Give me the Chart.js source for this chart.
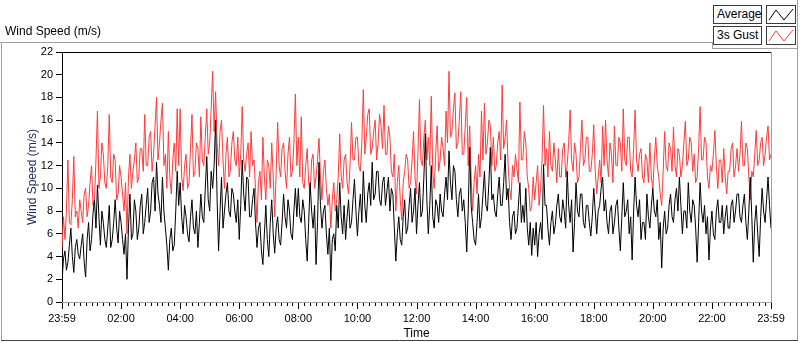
<!DOCTYPE html>
<html>
<head>
<meta charset="utf-8">
<script src="https://cdn.jsdelivr.net/npm/chart.js@4.4.1/dist/chart.umd.min.js"></script>
<style>
html, body { margin: 0; padding: 0; background: #fff; }
#wrap { position: relative; width: 800px; height: 342px; overflow: hidden; font-family: "Liberation Sans", Arial, sans-serif; }
#wrap canvas { position: absolute; left: 0; top: 0; }
.hdr { position: absolute; left: 5px; top: 24px; font-size: 12px; color: #000; }
.lg { position: absolute; left: 713px; width: 49px; height: 19px; border: 1px solid #3a3a3a; background: #fff; font-size: 12px; line-height: 17px; padding-left: 3px; box-sizing: border-box; color: #000; }
.ic { position: absolute; left: 766px; width: 30px; height: 19px; border: 1px solid #3a3a3a; background: #fff; box-sizing: border-box; }
.ic svg { position: absolute; left: 0; top: 0; }
</style>
</head>
<body>
<div id="wrap">
  <canvas id="chart" width="800" height="342"></canvas>
  <div class="hdr">Wind Speed (m/s)</div>
  <div class="lg" style="top:5px">Average</div>
  <div class="ic" style="top:5px"><svg width="28" height="17"><polyline points="2,14 9,4 17,14 26,3" fill="none" stroke="#000" stroke-width="1"/></svg></div>
  <div class="lg" style="top:26px">3s Gust</div>
  <div class="ic" style="top:26px"><svg width="28" height="17"><polyline points="2,14 9,4 17,14 26,3" fill="none" stroke="#ff3b3b" stroke-width="1"/></svg></div>
</div>
<script>
const STEP_MIN = 3; // one reading every 3 minutes, 23:59 -> 23:59
const X_LABELS = ["23:59", "02:00", "04:00", "06:00", "08:00", "10:00", "12:00", "14:00", "16:00", "18:00", "20:00", "22:00", "23:59"];
const Y_MAX = 22;
const Y_STEP = 2;

const AVG = [
    1.8, 3.8, 4.5, 2.8, 3.5, 5.0, 6.5, 4.0, 2.6, 4.8, 5.5, 4.2, 3.8, 5.0, 6.0, 3.5, 2.2, 5.5, 7.0, 4.5,
    5.5, 7.8, 9.0, 6.5, 10.3, 7.5, 5.0, 8.0, 7.0, 5.5, 4.8, 6.5, 8.5, 4.8, 5.5, 7.0, 9.0, 6.5, 5.2, 8.0,
    7.0, 5.5, 4.2, 6.0, 2.0, 6.5, 9.5, 5.5, 6.0, 9.0, 8.0, 5.5, 6.5, 8.5, 9.5, 6.0, 7.0, 8.5, 10.0, 7.0,
    8.0, 10.5, 11.0, 8.0, 12.3, 9.5, 8.5, 7.0, 11.0, 8.0, 6.5, 5.0, 2.8, 5.5, 6.5, 4.5, 5.0, 8.0, 11.5, 8.5,
    10.5, 7.5, 6.0, 8.5, 7.5, 6.0, 5.3, 7.5, 9.0, 6.5, 6.0, 8.0, 4.8, 7.0, 9.5, 7.5, 7.0, 10.0, 12.8, 9.0,
    8.0, 11.5, 10.0, 12.0, 16.0, 9.0, 4.5, 8.0, 11.0, 6.5, 8.0, 9.5, 10.5, 8.0, 7.5, 10.0, 9.5, 8.0, 7.0, 9.0,
    5.5, 8.5, 12.5, 9.5, 8.0, 11.0, 10.8, 7.5, 7.5, 9.0, 10.0, 7.0, 4.8, 6.5, 7.0, 4.5, 3.3, 6.0, 8.5, 5.5,
    4.0, 7.0, 9.0, 6.0, 4.3, 6.5, 7.5, 5.5, 5.0, 7.0, 9.5, 7.5, 6.5, 9.0, 8.0, 6.0, 5.5, 8.0, 10.0, 7.5,
    10.0, 7.5, 7.0, 9.0, 8.0, 5.5, 3.6, 7.0, 10.5, 8.0, 6.5, 8.5, 3.3, 7.0, 12.3, 8.5, 6.5, 8.0, 8.5, 6.0,
    4.2, 6.5, 1.9, 5.5, 6.0, 4.5, 8.5, 6.5, 10.5, 7.5, 6.0, 8.5, 5.5, 7.5, 9.0, 6.5, 7.0, 9.0, 10.8, 8.0,
    5.8, 8.0, 9.5, 7.0, 11.5, 8.5, 7.0, 9.5, 10.5, 8.5, 12.3, 9.0, 9.5, 11.5, 11.5, 9.0, 8.5, 10.5, 11.0, 8.5,
    9.8, 11.0, 8.0, 10.0, 9.5, 6.5, 3.6, 6.0, 7.5, 5.5, 5.0, 7.5, 9.0, 6.0, 6.5, 8.5, 10.0, 7.0, 8.0, 10.0,
    6.0, 8.5, 10.5, 7.5, 8.0, 11.0, 14.8, 9.0, 6.0, 8.5, 12.0, 7.5, 6.5, 9.0, 8.5, 7.0, 9.5, 8.0, 7.5, 9.5,
    11.0, 9.0, 13.3, 10.5, 9.0, 12.0, 11.5, 9.0, 7.5, 9.5, 10.0, 8.0, 9.0, 7.0, 4.4, 8.0, 13.6, 8.5, 7.0, 5.5,
    5.0, 7.0, 9.5, 6.5, 7.5, 9.5, 11.5, 8.5, 8.0, 10.5, 13.6, 9.0, 9.5, 8.0, 7.5, 9.5, 11.0, 8.5, 8.5, 10.5,
    13.0, 9.0, 10.0, 7.0, 5.5, 7.5, 8.0, 6.0, 6.5, 8.5, 10.5, 7.0, 8.5, 7.0, 10.0, 6.5, 5.0, 7.0, 4.1, 6.5,
    5.0, 7.0, 4.0, 6.0, 7.0, 5.5, 12.1, 8.5, 8.5, 6.5, 5.0, 7.0, 8.0, 6.0, 6.8, 8.5, 9.5, 7.5, 7.0, 9.0,
    8.0, 6.5, 11.5, 8.5, 7.0, 9.0, 4.4, 7.0, 10.5, 8.0, 7.5, 9.5, 9.5, 7.0, 6.5, 8.5, 8.5, 7.0, 5.8, 7.5,
    10.0, 8.0, 6.0, 8.0, 8.5, 10.0, 11.0, 8.0, 9.0, 7.0, 6.0, 8.0, 8.5, 6.0, 7.0, 8.5, 9.0, 6.5, 4.5, 7.5,
    10.5, 7.5, 8.0, 9.0, 6.0, 7.5, 3.7, 8.0, 11.0, 8.5, 7.5, 9.0, 5.5, 7.0, 7.0, 5.5, 9.5, 7.5, 6.5, 8.5,
    10.0, 8.0, 7.5, 9.0, 5.5, 7.0, 3.0, 6.5, 8.0, 6.0, 6.5, 8.5, 9.5, 7.5, 7.0, 9.0, 10.0, 8.0, 11.0, 8.5,
    6.0, 8.0, 8.0, 6.5, 10.5, 8.0, 7.0, 9.0, 8.5, 6.5, 3.5, 7.0, 10.5, 8.0, 7.0, 8.5, 6.0, 7.5, 3.7, 6.5,
    8.0, 6.0, 5.5, 8.0, 9.0, 7.0, 7.0, 8.5, 6.0, 7.5, 8.5, 6.5, 6.5, 8.5, 9.0, 7.0, 8.0, 9.5, 9.5, 7.5,
    7.0, 8.5, 9.5, 7.0, 5.5, 8.0, 11.0, 7.5, 3.5, 7.0, 8.5, 6.0, 4.0, 7.5, 10.0, 8.0, 7.0, 9.0, 11.0, 8.5,
    6.5
];

const GUST = [
    4.8, 7.5, 5.5, 8.0, 12.5, 7.0, 6.8, 9.0, 12.8, 7.5, 8.0, 6.5, 9.0, 8.0, 7.0, 9.5, 10.0, 7.5, 8.5, 10.5,
    12.0, 8.5, 9.0, 12.5, 16.8, 10.0, 11.0, 14.0, 13.0, 10.5, 10.0, 12.0, 16.5, 11.0, 10.5, 13.0, 12.5, 9.0, 9.5, 12.0,
    11.0, 9.5, 8.0, 10.5, 6.0, 11.0, 13.0, 10.0, 11.5, 12.5, 14.0, 10.5, 11.0, 13.5, 13.5, 11.5, 16.5, 12.0, 12.0, 14.5,
    15.0, 11.5, 13.0, 15.5, 18.0, 12.5, 14.0, 16.0, 17.5, 12.0, 13.0, 10.0, 15.0, 11.0, 9.5, 12.5, 14.0, 11.5, 17.0, 12.0,
    17.0, 11.0, 9.8, 12.0, 13.0, 10.0, 10.5, 13.5, 16.5, 11.0, 11.5, 14.0, 13.5, 11.0, 16.3, 12.5, 12.0, 14.5, 17.0, 13.0,
    14.0, 17.0, 20.3, 15.0, 18.5, 14.0, 12.0, 15.0, 16.0, 12.5, 10.0, 13.0, 14.5, 11.0, 11.5, 14.0, 15.0, 12.5, 12.0, 14.5,
    11.0, 13.0, 17.2, 12.5, 11.5, 13.0, 14.0, 11.0, 15.0, 12.0, 12.5, 10.0, 7.0, 10.5, 11.5, 9.0, 14.5, 11.0, 9.0, 12.5,
    12.0, 10.0, 14.0, 11.0, 7.5, 11.5, 15.8, 12.0, 11.0, 13.5, 14.0, 11.5, 10.0, 13.0, 14.5, 11.0, 11.5, 14.0, 18.3, 12.0,
    14.5, 11.0, 16.3, 10.5, 10.0, 12.0, 13.5, 10.5, 9.5, 12.5, 13.0, 10.0, 11.0, 12.5, 14.4, 11.0, 9.0, 11.5, 12.5, 10.0,
    8.5, 9.5, 6.5, 9.0, 10.5, 8.0, 9.0, 11.0, 14.8, 11.0, 10.0, 12.5, 13.0, 10.5, 9.5, 12.0, 15.8, 12.5, 12.5, 14.5,
    14.5, 12.0, 11.5, 14.0, 18.7, 13.0, 14.5, 16.5, 17.0, 13.0, 13.5, 15.0, 16.0, 12.5, 14.0, 16.5, 15.5, 13.5, 17.3, 13.0,
    13.0, 15.5, 14.5, 11.5, 11.0, 13.0, 8.0, 10.5, 12.0, 9.0, 7.2, 10.5, 11.5, 13.0, 12.5, 10.0, 10.5, 12.5, 15.0, 11.0,
    9.5, 13.0, 17.8, 12.5, 12.0, 14.5, 16.0, 12.5, 14.5, 12.0, 18.1, 11.5, 10.0, 13.0, 15.5, 11.5, 12.5, 14.5, 13.5, 12.0,
    16.8, 14.0, 20.3, 14.5, 15.0, 17.0, 18.4, 13.5, 14.0, 16.0, 18.5, 13.0, 13.0, 15.5, 18.0, 12.0, 15.5, 11.0, 8.0, 10.5,
    12.0, 9.5, 13.0, 11.0, 16.8, 12.5, 17.5, 13.0, 14.0, 16.0, 15.5, 12.0, 14.5, 11.5, 12.0, 14.0, 15.0, 12.5, 19.1, 13.5,
    14.5, 16.0, 12.0, 10.0, 9.0, 12.0, 11.0, 13.0, 11.8, 10.5, 17.6, 12.5, 12.5, 15.0, 14.0, 11.0, 10.0, 8.0, 8.5, 11.0,
    9.0, 10.5, 12.0, 8.5, 10.0, 12.5, 17.3, 12.0, 13.5, 11.0, 15.0, 12.0, 11.5, 14.0, 12.5, 10.5, 13.5, 11.0, 11.0, 13.5,
    14.0, 11.0, 12.0, 14.0, 16.9, 12.5, 11.5, 14.0, 13.0, 10.5, 11.0, 13.5, 16.0, 12.0, 12.5, 14.5, 14.5, 11.5, 11.5, 13.0,
    15.6, 11.5, 9.5, 11.0, 12.5, 10.5, 15.5, 12.0, 16.0, 12.5, 11.0, 14.0, 13.0, 10.5, 15.5, 12.0, 12.0, 14.5, 14.0, 11.5,
    17.0, 12.5, 12.0, 14.5, 14.5, 11.5, 11.0, 13.5, 16.9, 12.5, 11.5, 13.0, 13.5, 11.0, 10.5, 13.0, 12.5, 10.5, 14.0, 11.0,
    10.0, 12.5, 14.5, 12.0, 11.0, 9.5, 8.5, 11.5, 15.0, 12.0, 11.5, 14.0, 13.5, 11.5, 15.4, 12.0, 11.0, 13.5, 13.0, 11.0,
    12.0, 14.0, 15.9, 12.0, 12.5, 14.5, 14.0, 11.5, 13.0, 10.5, 11.0, 13.5, 17.2, 12.5, 12.5, 14.5, 14.0, 11.0, 10.0, 12.0,
    11.5, 13.0, 15.1, 12.0, 10.0, 12.5, 12.5, 10.5, 13.5, 11.0, 9.5, 11.5, 11.5, 13.5, 14.0, 11.0, 12.0, 13.5, 11.5, 13.0,
    15.9, 12.0, 12.0, 14.0, 13.5, 11.0, 9.0, 11.5, 11.0, 13.0, 15.1, 12.0, 12.5, 14.0, 14.5, 12.0, 13.0, 14.5, 15.5, 12.5,
    13.0
];

const X_MAX = (AVG.length - 1) * STEP_MIN;
const toPts = arr => arr.map((v, i) => ({ x: i * STEP_MIN, y: v }));

// frame, plot border and the minor/major time ticks
const framePlugin = {
    id: "frame",
    beforeDraw(chart) {
        const ctx = chart.ctx;
        ctx.save();
        ctx.fillStyle = "#fff";
        ctx.fillRect(0, 0, chart.width, chart.height);
        ctx.restore();
    },
    afterDraw(chart) {
        const { ctx, chartArea: a, scales: { x } } = chart;
        const line = (x1, y1, x2, y2, c) => {
            ctx.strokeStyle = c;
            ctx.beginPath(); ctx.moveTo(x1, y1); ctx.lineTo(x2, y2); ctx.stroke();
        };
        ctx.save();
        ctx.lineWidth = 1;
        // plot border
        line(a.left, a.top + 0.5, a.right + 1, a.top + 0.5, "#000");
        line(a.right + 0.5, a.top, a.right + 0.5, a.bottom + 1, "#a0a0a0");
        line(a.left, a.bottom + 0.5, a.right + 1, a.bottom + 0.5, "#a0a0a0");
        // time ticks
        for (let m = 0; m <= X_MAX; m += 12) {
            const px = Math.round(x.getPixelForValue(m)) + 0.5;
            const len = m % 120 === 0 || m === X_MAX ? 6 : 3;
            line(px, a.bottom + 1, px, a.bottom + 1 + len, "#000");
        }
        // outer frame
        line(0, 42.5, 712, 42.5, "#a0a0a0");
        line(712.5, 42, 712.5, 49, "#a0a0a0");
        line(712, 48.5, 798, 48.5, "#a0a0a0");
        line(1.5, 42, 1.5, 341, "#a0a0a0");
        line(797.5, 0, 797.5, 341, "#a0a0a0");
        line(1, 340.5, 798, 340.5, "#404040");
        ctx.restore();
    }
};

new Chart(document.getElementById("chart"), {
    type: "line",
    data: {
        datasets: [
            { label: "Average", data: toPts(AVG), borderColor: "#000", borderWidth: 1, pointRadius: 0, tension: 0 },
            { label: "3s Gust", data: toPts(GUST), borderColor: "#ff3b3b", borderWidth: 1, pointRadius: 0, tension: 0 }
        ]
    },
    options: {
        responsive: false,
        animation: false,
        events: [],
        layout: { padding: { left: 0, top: 52, right: 29, bottom: 0 } },
        plugins: { legend: { display: false }, tooltip: { enabled: false } },
        scales: {
            x: {
                type: "linear", min: 0, max: X_MAX,
                afterFit: s => { s.height = 40; },
                grid: { display: false, drawTicks: true, tickLength: 6 },
                border: { display: false },
                ticks: {
                    stepSize: 120, autoSkip: false, maxRotation: 0, minRotation: 0, padding: 4,
                    color: "#000", font: { family: "Liberation Sans, Arial, sans-serif", size: 11 },
                    callback: v => X_LABELS[Math.round(v / 120)] ?? ""
                },
                afterBuildTicks: s => { s.ticks = X_LABELS.map((_, i) => ({ value: Math.min(i * 120, X_MAX) })); },
                title: { display: true, text: "Time", color: "#000", padding: { top: 0, bottom: 1 }, font: { family: "Liberation Sans, Arial, sans-serif", size: 12 } }
            },
            y: {
                min: 0, max: Y_MAX,
                afterFit: s => { s.width = 62; },
                grid: { drawOnChartArea: false, tickLength: 6, color: "#000" },
                border: { display: true, color: "#000" },
                ticks: { stepSize: Y_STEP, padding: 3, color: "#000", font: { family: "Liberation Sans, Arial, sans-serif", size: 11 } },
                title: { display: true, text: "Wind Speed (m/s)", color: "#1a2a5a", padding: { top: 25, bottom: 0 }, font: { family: "Liberation Sans, Arial, sans-serif", size: 12 } }
            }
        }
    },
    plugins: [framePlugin]
});
</script>
</body>
</html>
